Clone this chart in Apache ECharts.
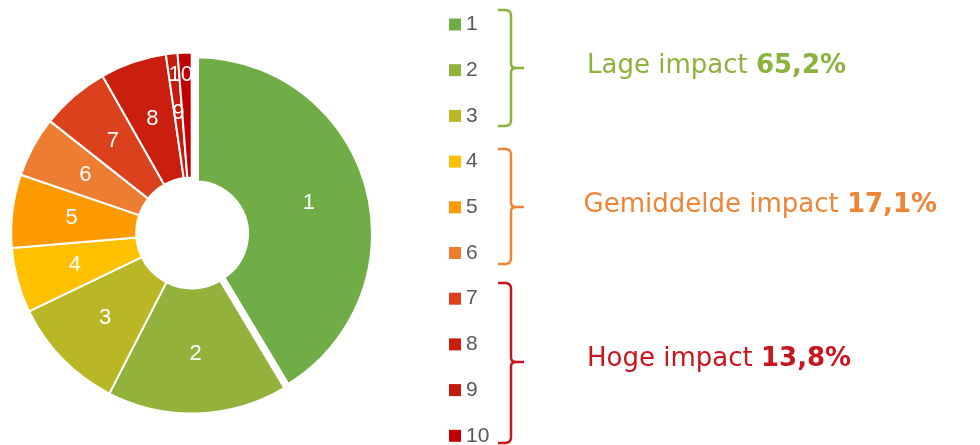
<!DOCTYPE html>
<html>
<head>
<meta charset="utf-8">
<script src="https://cdn.jsdelivr.net/npm/echarts@6/dist/echarts.min.js"></script>
<style>
html,body{margin:0;padding:0;background:#fff;}
#chart{width:980px;height:445px;}
</style>
</head>
<body>
<div id="chart"></div>
<script>
// ---- data ----
const categories = ['1', '2', '3', '4', '5', '6', '7', '8', '9', '10'];
const values = [39.8, 15.5, 9.9, 5.6, 6.3, 5.2, 5.9, 5.7, 1.0, 1.2];
const sliceColors = ['#70AD47', '#93B23B', '#B9B725', '#FFC000', '#FF9A00', '#ED7D31', '#DA411C', '#CA1F0E', '#C41A0C', '#C00000'];
const groupNames = ['Lage impact ', 'Gemiddelde impact ', 'Hoge impact '];
const groupShares = ['65,2%', '17,1%', '13,8%'];
const groupColors = ['#8CB33D', '#EE8435', '#C8161E'];

// ---- layout ----
const mainCenter = [191.7, 233];
const mainRadius = [55.5, 180.5];
const expCenter = [195.5, 233.8];
const expRadius = [50, 179];
const labelFont = { color: '#fff', fontSize: 22, fontFamily: 'Liberation Sans' };

const total = values.reduce((a, b) => a + b, 0);

// series A: slices 2..10 (slice 1 as an invisible placeholder)
const dataA = categories.map((c, i) => {
  if (i === 0) {
    return { name: '_1', value: values[i], itemStyle: { color: 'rgba(0,0,0,0)', borderWidth: 0 }, label: { show: false } };
  }
  const item = { name: c, value: values[i], itemStyle: { color: sliceColors[i] } };
  if (i === 9) {
    item.label = { formatter: '{b}  \n\n\n', lineHeight: 25 };
  }
  return item;
});

// series B: exploded slice 1
const dataB = [
  { name: categories[0], value: values[0], itemStyle: { color: sliceColors[0], borderColor: '#fff', borderWidth: 7 } },
  { name: '_rest', value: total - values[0], itemStyle: { color: 'rgba(0,0,0,0)', borderWidth: 0 }, label: { show: false } }
];

// brackets
const bracketSpecs = [
  { top: 10, mid: 68, bot: 126 },
  { top: 149, mid: 207, bot: 264 },
  { top: 283, mid: 362, bot: 443 }
];
const textSpecs = [
  { x: 587, y: 66.3 },
  { x: 583.5, y: 205.6 },
  { x: 587, y: 359 }
];
function bracketUpper(b) {
  return [[498, b.top], [506, b.top], [509, b.top + 1], [510.5, b.top + 3], [511, b.top + 5],
          [511, b.mid - 4], [511.5, b.mid - 2], [513, b.mid - 0.5], [516, b.mid], [524, b.mid]];
}
function bracketLower(b) {
  return [[516, b.mid], [513, b.mid + 0.5], [511.5, b.mid + 2], [511, b.mid + 4],
          [511, b.bot - 5], [510.5, b.bot - 3], [509, b.bot - 1], [506, b.bot], [498, b.bot]];
}
const graphics = [];
bracketSpecs.forEach((b, i) => {
  [bracketUpper(b), bracketLower(b)].forEach(pts => {
    graphics.push({
      type: 'polyline', silent: true,
      shape: { points: pts },
      style: { stroke: groupColors[i], lineWidth: 2.5, fill: null, lineJoin: 'round' }
    });
  });
  graphics.push({
    type: 'text', silent: true,
    x: textSpecs[i].x, y: textSpecs[i].y,
    style: {
      text: '{a|' + groupNames[i] + '}{b|' + groupShares[i] + '}',
      verticalAlign: 'middle', align: 'left',
      rich: {
        a: { fontFamily: 'DejaVu Sans', fontSize: 26, fill: groupColors[i], fontWeight: 'normal' },
        b: { fontFamily: 'DejaVu Sans', fontSize: 26, fill: groupColors[i], fontWeight: 'bold' }
      }
    }
  });
});

const chart = echarts.init(document.getElementById('chart'), null, { renderer: 'canvas' });
chart.setOption({
  animation: false,
  backgroundColor: '#fff',
  legend: {
    orient: 'vertical',
    left: 449,
    top: 14,
    height: 440,
    padding: 0,
    itemGap: 24.7,
    itemWidth: 12,
    itemHeight: 12,
    icon: 'rect',
    selectedMode: false,
    itemStyle: { borderWidth: 0 },
    textStyle: { color: '#595959', fontSize: 21, fontFamily: 'Liberation Sans' },
    data: categories
  },
  series: [
    {
      type: 'pie',
      z: 3,
      center: expCenter,
      radius: expRadius,
      startAngle: 90,
      clockwise: true,
      silent: true,
      avoidLabelOverlap: false,
      labelLayout: { hideOverlap: false },
      emphasis: { disabled: true },
      label: Object.assign({ show: true, position: 'inside', formatter: '{b}' }, labelFont),
      labelLine: { show: false },
      data: dataB
    },
    {
      type: 'pie',
      z: 2,
      center: mainCenter,
      radius: mainRadius,
      startAngle: 90,
      clockwise: true,
      silent: true,
      avoidLabelOverlap: false,
      labelLayout: { hideOverlap: false },
      emphasis: { disabled: true },
      itemStyle: { borderColor: '#fff', borderWidth: 2 },
      label: Object.assign({ show: true, position: 'inside', formatter: '{b}' }, labelFont),
      labelLine: { show: false },
      data: dataA
    }
  ],
  graphic: graphics
});
</script>
</body>
</html>
